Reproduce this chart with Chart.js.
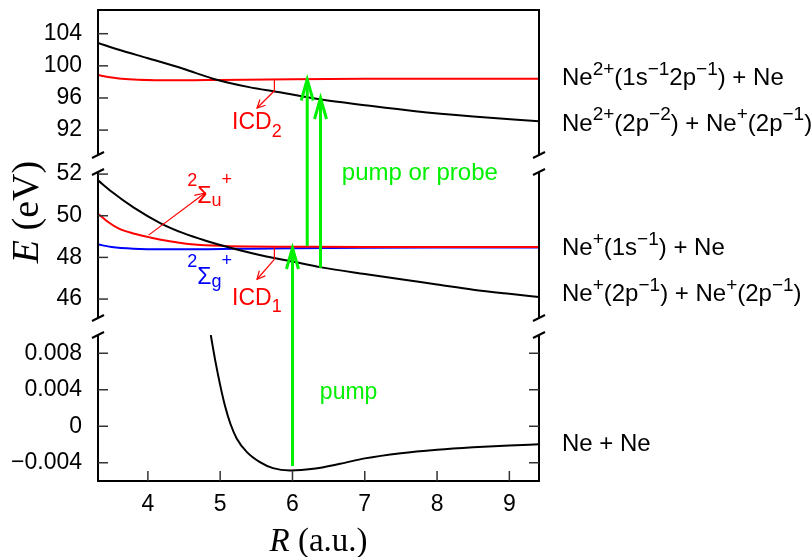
<!DOCTYPE html>
<html>
<head>
<meta charset="utf-8">
<title>Ne2 potential curves</title>
<script src="https://cdn.jsdelivr.net/npm/chart.js@4/dist/chart.umd.min.js"></script>
<style>
  html, body { margin: 0; padding: 0; background: #fff; }
  canvas { display: block; }
</style>
</head>
<body>
<canvas id="pec"></canvas>
<script>
// 获取canvas元素
var canvas = document.getElementById("pec");
canvas.width = 812;
canvas.height = 557;

var SANS = '"Liberation Sans", Arial, Helvetica, sans-serif';
var SERIF = '"Liberation Serif", "Times New Roman", serif';
var GREEN = "#00f000";

// 刻度
var rTicks = [4, 5, 6, 7, 8, 9];
var topTicks = [92, 96, 100, 104];
var midTicks = [46, 48, 50, 52];
var botTicks = [-0.004, 0, 0.004, 0.008];

// 上段: Ne2+(2p-2) + Ne+(2p-1)
var rNe2Dbl = [3.31, 3.6, 4.0, 4.5, 4.9, 5.4, 5.8, 6.4, 7.0, 7.7, 8.5, 9.41];
var eNe2Dbl = [102.85, 102.0, 100.95, 99.6, 98.4, 97.35, 96.75, 95.8, 95.1, 94.35, 93.7, 93.1];
// 上段: Ne2+(1s-1 2p-1) + Ne
var rNe2Core = [3.31, 3.45, 3.6, 3.8, 4.1, 4.5, 5.0, 6.0, 7.0, 8.0, 9.41];
var eNe2Core = [98.85, 98.6, 98.42, 98.3, 98.22, 98.2, 98.25, 98.33, 98.38, 98.4, 98.4];

// 中段: Ne+(2p-1) + Ne+(2p-1)
var rIonPair = [3.31, 3.5, 3.8, 4.17, 4.5, 4.8, 5.14, 5.5, 6.0, 6.4, 7.0, 7.5, 8.0, 8.5, 9.0, 9.41];
var eIonPair = [51.7, 51.15, 50.4, 49.65, 49.15, 48.8, 48.46, 48.15, 47.8, 47.52, 47.2, 46.95, 46.7, 46.45, 46.25, 46.1];
// 中段: 2Σu+ 与 2Σg+ (Ne+(1s-1) + Ne)
var rSigmaU = [3.31, 3.45, 3.6, 3.8, 4.03, 4.3, 4.53, 4.9, 5.4, 6.0, 7.0, 8.0, 9.41];
var eSigmaU = [50.1, 49.7, 49.38, 49.15, 48.96, 48.78, 48.66, 48.57, 48.52, 48.51, 48.5, 48.5, 48.5];
var rSigmaG = [3.31, 3.5, 3.8, 4.2, 4.7, 5.2, 6.0, 7.0, 8.0, 9.41];
var eSigmaG = [48.62, 48.5, 48.42, 48.39, 48.39, 48.41, 48.44, 48.46, 48.47, 48.47];

// 下段: 基态 Ne + Ne
var rGround = [4.87, 4.93, 5.0, 5.07, 5.14, 5.23, 5.37, 5.55, 5.73, 5.97, 6.29, 6.66, 7.0, 7.5, 8.0, 8.5, 9.0, 9.41];
var eGround = [0.0100, 0.00727, 0.00451, 0.00213, 0.0003, -0.00136, -0.00283, -0.00393, -0.00459, -0.00484, -0.00466, -0.00411, -0.00352, -0.00295, -0.00257, -0.0023, -0.0021, -0.00198];

// 右侧通道名称 (文字片段, 上标/下标)
var channelTexts = [
    [["Ne", ""], ["2+", "sup"], ["(1s", ""], ["\u22121", "sup"], ["2p", ""], ["\u22121", "sup"], [") + Ne", ""]],
    [["Ne", ""], ["2+", "sup"], ["(2p", ""], ["\u22122", "sup"], [") + Ne", ""], ["+", "sup"], ["(2p", ""], ["\u22121", "sup"], [")", ""]],
    [["Ne", ""], ["+", "sup"], ["(1s", ""], ["\u22121", "sup"], [") + Ne", ""]],
    [["Ne", ""], ["+", "sup"], ["(2p", ""], ["\u22121", "sup"], [") + Ne", ""], ["+", "sup"], ["(2p", ""], ["\u22121", "sup"], [")", ""]],
    [["Ne + Ne", ""]]
];

function pts(rs, es) {
    return rs.map(function (r, i) { return { x: r, y: es[i] }; });
}

function curve(rs, es, axis, color) {
    return {
        data: pts(rs, es),
        yAxisID: axis,
        borderColor: color,
        borderWidth: 2,
        pointRadius: 0,
        fill: false,
        cubicInterpolationMode: "monotone"
    };
}

// 写带上下标的文字
function drawParts(ctx, parts, x, y, size, color) {
    ctx.fillStyle = color;
    ctx.textAlign = "left";
    ctx.textBaseline = "alphabetic";
    parts.forEach(function (p) {
        var small = p[1] === "sup" || p[1] === "sub";
        var fs = small ? Math.round(size * 0.78) : size;
        var dy = p.length > 2 ? p[2] : (p[1] === "sup" ? -size * 0.43 : (p[1] === "sub" ? size * 0.32 : 0));
        ctx.font = fs + "px " + SANS;
        ctx.fillText(p[0], x, y + dy);
        x += ctx.measureText(p[0]).width;
    });
}

function line(ctx, x1, y1, x2, y2) {
    ctx.beginPath();
    ctx.moveTo(x1, y1);
    ctx.lineTo(x2, y2);
    ctx.stroke();
}

// 箭头: 线段 + 开口箭头
function arrow(ctx, x1, y1, x2, y2, len, half, color, width) {
    ctx.strokeStyle = color;
    ctx.lineWidth = width;
    ctx.lineJoin = "miter";
    line(ctx, x1, y1, x2, y2);
    var a = Math.atan2(y2 - y1, x2 - x1);
    var bx = x2 - len * Math.cos(a), by = y2 - len * Math.sin(a);
    ctx.beginPath();
    ctx.moveTo(bx + half * Math.sin(a), by - half * Math.cos(a));
    ctx.lineTo(x2, y2);
    ctx.lineTo(bx - half * Math.sin(a), by + half * Math.cos(a));
    ctx.stroke();
}

// 坐标框、断轴符号、刻度、标注
var decorations = {
    id: "decorations",
    afterDatasetsDraw: function (chart) {
        var ctx = chart.ctx, area = chart.chartArea, s = chart.scales;
        var L = area.left, Rt = area.right;
        var panels = [s.yTop, s.yMid, s.yBot];
        function px(r) { return s.x.getPixelForValue(r); }
        function py(axis, e) { return s[axis].getPixelForValue(e); }

        ctx.save();
        ctx.lineCap = "butt";
        ctx.strokeStyle = "#000";
        ctx.lineWidth = 2;
        panels.forEach(function (p) {
            line(ctx, L, p.top, L, p.bottom);
            line(ctx, Rt, p.top, Rt, p.bottom);
        });
        line(ctx, L - 1, area.top, Rt + 1, area.top);
        line(ctx, L - 1, area.bottom, Rt + 1, area.bottom);

        // 断轴
        [s.yTop.bottom, s.yMid.top, s.yMid.bottom, s.yBot.top].forEach(function (y) {
            [L, Rt].forEach(function (x) { line(ctx, x - 6, y + 3, x + 6, y - 3); });
        });

        // 刻度线 (朝内)
        ctx.strokeStyle = "#333";
        ctx.lineWidth = 1.5;
        panels.forEach(function (p) {
            p.ticks.forEach(function (t) {
                var y = p.getPixelForValue(t.value);
                line(ctx, L, y, L + 10, y);
                if (p === s.yBot) line(ctx, Rt - 10, y, Rt, y);
            });
        });
        s.x.ticks.forEach(function (t) {
            var x = px(t.value);
            line(ctx, x, area.bottom, x, area.bottom - 10);
        });

        // 衰变标注 ICD
        ctx.lineWidth = 1.2;
        ctx.strokeStyle = "#ff0000";
        line(ctx, px(5.75), py("yTop", 98.33), px(5.75), py("yTop", 96.9));
        arrow(ctx, px(5.75), py("yTop", 96.9), px(5.51), py("yTop", 94.75), 8, 4, "#ff0000", 1.2);
        ctx.strokeStyle = "#ff0000";
        line(ctx, px(5.75), py("yMid", 48.5), px(5.75), py("yMid", 47.9));
        arrow(ctx, px(5.75), py("yMid", 47.9), px(5.51), py("yMid", 46.95), 8, 4, "#ff0000", 1.2);
        arrow(ctx, px(4.01), py("yMid", 49.07), px(4.79), py("yMid", 51.09), 10, 4.5, "#ff0000", 1.2);

        drawParts(ctx, [["ICD", ""], ["2", "sub"]], px(5.165), py("yTop", 92.09), 23, "#ff0000");
        drawParts(ctx, [["ICD", ""], ["1", "sub"]], px(5.165), py("yMid", 45.71), 23, "#ff0000");
        drawParts(ctx, [["2", "sup", -17], ["\u03a3", ""], ["u", "sub", 3], ["+", "sup", -18]],
            px(4.544), py("yMid", 50.6), 23, "#ff0000");
        drawParts(ctx, [["2", "sup", -17], ["\u03a3", ""], ["g", "sub", 3], ["+", "sup", -18]],
            px(4.544), py("yMid", 46.72), 23, "#0000ff");

        // 泵浦/探测跃迁
        arrow(ctx, px(6.0), py("yBot", -0.00436), px(6.0), py("yMid", 48.45), 21, 6, GREEN, 3);
        arrow(ctx, px(6.204), py("yMid", 48.55), px(6.204), py("yTop", 98.3), 21, 6, GREEN, 3);
        arrow(ctx, px(6.388), py("yMid", 47.5), px(6.388), py("yTop", 96.0), 21, 6, GREEN, 3);
        drawParts(ctx, [["pump or probe", ""]], px(6.682), py("yMid", 51.72), 24, GREEN);
        drawParts(ctx, [["pump", ""]], px(6.379), py("yBot", 0.003), 23, GREEN);

        // 右侧通道名称
        var anchors = [["yTop", 97.61], ["yTop", 91.92], ["yMid", 48.12], ["yMid", 45.91], ["yBot", -0.00271]];
        channelTexts.forEach(function (parts, i) {
            drawParts(ctx, parts, Rt + 23, py(anchors[i][0], anchors[i][1]), 24, "#000");
        });

        // 坐标轴标题
        ctx.fillStyle = "#000";
        ctx.textBaseline = "alphabetic";
        ctx.textAlign = "left";
        ctx.font = "italic 33px " + SERIF;
        var wR = ctx.measureText("R").width;
        ctx.font = "33px " + SERIF;
        var wRest = ctx.measureText(" (a.u.)").width;
        var x0 = (L + Rt) / 2 - (wR + wRest) / 2;
        ctx.font = "italic 33px " + SERIF;
        ctx.fillText("R", x0, 551);
        ctx.font = "33px " + SERIF;
        ctx.fillText(" (a.u.)", x0 + wR, 551);

        ctx.translate(38, 212);
        ctx.rotate(-Math.PI / 2);
        ctx.font = "italic 38px " + SERIF;
        var wE = ctx.measureText("E").width;
        ctx.font = "38px " + SERIF;
        var wEv = ctx.measureText(" (eV)").width;
        var y0 = -(wE + wEv) / 2;
        ctx.font = "italic 38px " + SERIF;
        ctx.fillText("E", y0, 0);
        ctx.font = "38px " + SERIF;
        ctx.fillText(" (eV)", y0 + wE, 0);
        ctx.restore();
    }
};

function tickFont() { return { family: SANS, size: 23 }; }

function panelScale(lo, hi, weight, order, vals, fmt) {
    return {
        type: "linear",
        position: "left",
        stack: "E",
        stackWeight: weight,
        weight: order,
        min: lo,
        max: hi,
        grid: { display: false, drawTicks: false },
        border: { display: false },
        ticks: { font: tickFont(), color: "#000", padding: 16, autoSkip: false, callback: fmt },
        afterBuildTicks: function (sc) { sc.ticks = vals.map(function (v) { return { value: v }; }); },
        afterFit: function (sc) {
            sc.width = 98;
            sc.paddingTop = 0;
            sc.paddingBottom = 0;
        }
    };
}

function gapScale(weight, order) {
    return {
        type: "linear", position: "left", display: false,
        stack: "E", stackWeight: weight, weight: order, min: 0, max: 1,
        afterFit: function (sc) { sc.width = 98; }
    };
}

var myChart = new Chart(canvas, {
    type: "line",
    data: {
        datasets: [
            curve(rNe2Dbl, eNe2Dbl, "yTop", "#000"),
            curve(rIonPair, eIonPair, "yMid", "#000"),
            curve(rGround, eGround, "yBot", "#000"),
            curve(rNe2Core, eNe2Core, "yTop", "#ff0000"),
            curve(rSigmaU, eSigmaU, "yMid", "#ff0000"),
            curve(rSigmaG, eSigmaG, "yMid", "#0000ff")
        ]
    },
    options: {
        responsive: false,
        maintainAspectRatio: false,
        animation: false,
        devicePixelRatio: 1,
        layout: { autoPadding: false, padding: { top: 10, right: 273, bottom: 0, left: 0 } },
        plugins: { legend: { display: false }, tooltip: { enabled: false } },
        scales: {
            x: {
                type: "linear",
                min: 3.31,
                max: 9.41,
                grid: { display: false, drawTicks: false },
                border: { display: false },
                ticks: { font: tickFont(), color: "#000", padding: 10, autoSkip: false },
                afterBuildTicks: function (sc) { sc.ticks = rTicks.map(function (v) { return { value: v }; }); },
                afterFit: function (sc) {
                    sc.height = 76;
                    sc.paddingLeft = 0;
                    sc.paddingRight = 0;
                }
            },
            yBot: panelScale(-0.006, 0.010, 146, 1, botTicks, function (v) {
                return v === 0 ? "0" : v.toFixed(3).replace("-", "\u2212");
            }),
            gapLow: gapScale(17, 2),
            yMid: panelScale(45.09, 52.1, 146, 3, midTicks, function (v) { return String(v); }),
            gapHigh: gapScale(17, 4),
            yTop: panelScale(88.9, 106.95, 145, 5, topTicks, function (v) { return String(v); })
        }
    },
    plugins: [decorations]
});
</script>
</body>
</html>
